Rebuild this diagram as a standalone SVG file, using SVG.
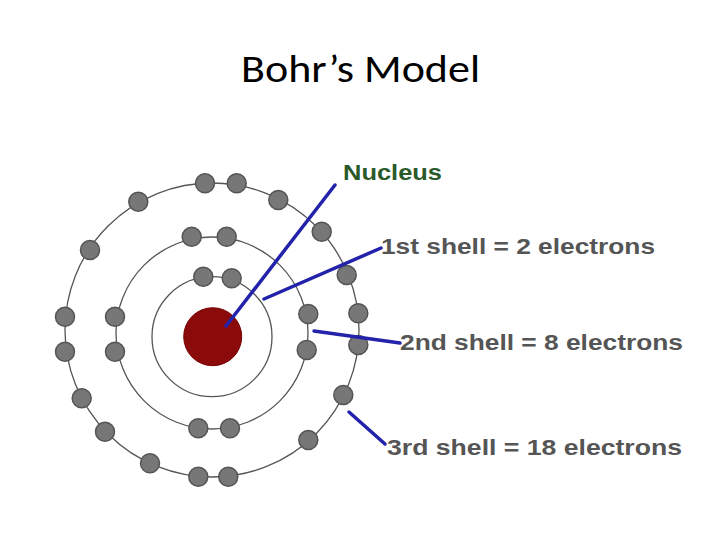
<svg xmlns="http://www.w3.org/2000/svg" width="720" height="540" viewBox="0 0 720 540">
<style>
.shell{fill:none;stroke:#555;stroke-width:1.3}
.e{fill:#777;stroke:#555;stroke-width:1.5}
.ln{stroke:#2222aa;stroke-width:3.5;stroke-linecap:round}
.lb{font-family:"Liberation Sans",Arial,sans-serif;font-size:22px;font-weight:bold;fill:#555}
</style>
<rect width="720" height="540" fill="#fff"/>
<text x="241" y="82" font-family="Carlito,'Open Sans',sans-serif" font-size="38" textLength="239" lengthAdjust="spacingAndGlyphs" fill="#000">Bohr’s Model</text>
<g id="shells">
<circle class="shell" cx="212" cy="336.7" r="60"/>
<circle class="shell" cx="212" cy="333" r="96"/>
<circle class="shell" cx="212" cy="330" r="147"/>
</g>
<g id="nucleus"><circle cx="212.7" cy="336.7" r="29" fill="#8b0a0a" stroke="#700" stroke-width="1"/></g>
<g id="electrons">
<circle class="e" cx="203.3" cy="276.7" r="9.5"/><circle class="e" cx="231.7" cy="278.3" r="9.5"/>
<circle class="e" cx="191.7" cy="236.7" r="9.5"/><circle class="e" cx="226.7" cy="236.7" r="9.5"/>
<circle class="e" cx="308.3" cy="314" r="9.5"/><circle class="e" cx="306.7" cy="350" r="9.5"/>
<circle class="e" cx="230" cy="428.3" r="9.5"/><circle class="e" cx="198.3" cy="428.3" r="9.5"/>
<circle class="e" cx="115" cy="351.7" r="9.5"/><circle class="e" cx="115" cy="316.7" r="9.5"/>
<circle class="e" cx="205" cy="183.3" r="9.5"/><circle class="e" cx="236.7" cy="183.3" r="9.5"/>
<circle class="e" cx="278.3" cy="200" r="9.5"/><circle class="e" cx="321.7" cy="231.7" r="9.5"/>
<circle class="e" cx="346.7" cy="275" r="9.5"/><circle class="e" cx="358.3" cy="313.3" r="9.5"/>
<circle class="e" cx="358.3" cy="345" r="9.5"/><circle class="e" cx="343.3" cy="395" r="9.5"/>
<circle class="e" cx="308.3" cy="440" r="9.5"/><circle class="e" cx="228.3" cy="476.7" r="9.5"/>
<circle class="e" cx="198.3" cy="476.7" r="9.5"/><circle class="e" cx="150" cy="463.3" r="9.5"/>
<circle class="e" cx="105" cy="431.7" r="9.5"/><circle class="e" cx="81.7" cy="398.3" r="9.5"/>
<circle class="e" cx="65" cy="351.7" r="9.5"/><circle class="e" cx="65" cy="316.7" r="9.5"/>
<circle class="e" cx="90" cy="250" r="9.5"/><circle class="e" cx="138.3" cy="201.7" r="9.5"/>
</g>
<g id="connectors">
<line class="ln" x1="226" y1="326" x2="335" y2="185"/>
<line class="ln" x1="264" y1="299" x2="381" y2="248"/>
<line class="ln" x1="314" y1="331" x2="400" y2="343"/>
<line class="ln" x1="349" y1="412" x2="385" y2="444"/>
</g>
<g id="labels">
<text class="lb" x="343" y="180" textLength="99" lengthAdjust="spacingAndGlyphs" style="fill:#2a5a2a">Nucleus</text>
<text class="lb" x="381" y="254" textLength="274" lengthAdjust="spacingAndGlyphs">1st shell = 2 electrons</text>
<text class="lb" x="400" y="350" textLength="283" lengthAdjust="spacingAndGlyphs">2nd shell = 8 electrons</text>
<text class="lb" x="387" y="455" textLength="295" lengthAdjust="spacingAndGlyphs">3rd shell = 18 electrons</text>
</g>
</svg>
